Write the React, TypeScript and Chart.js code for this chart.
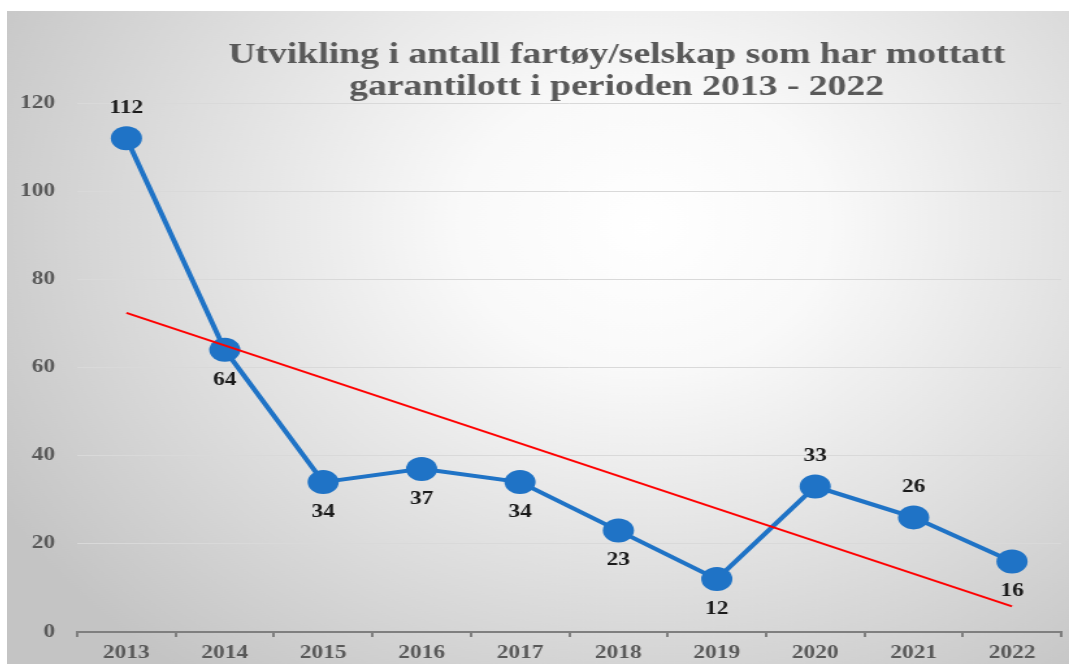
import React, { useEffect, useRef } from "react";
import { Chart, registerables } from "chart.js";

Chart.register(...registerables);

const years = ["2013", "2014", "2015", "2016", "2017", "2018", "2019", "2020", "2021", "2022"];
const counts = [112, 64, 34, 37, 34, 23, 12, 33, 26, 16];
const labelSides = ["above", "below", "below", "below", "below", "below", "below", "above", "above", "below"];
const trendValues: (number | null)[] = [72.4, null, null, null, null, null, null, null, null, 5.8];
const titleLines = ["Utvikling i antall fartøy/selskap som har mottatt", "garantilott i perioden 2013 - 2022"];
const yTicks = [0, 20, 40, 60, 80, 100, 120];

const STRETCH = 1.3;
const CSS_W = 1062;
const CSS_H = 653;
const BMP_W = Math.round(CSS_W / STRETCH);
const SERIF = "'Liberation Serif', 'Times New Roman', serif";

export default function App() {
  const ref = useRef<HTMLCanvasElement | null>(null);

  useEffect(() => {
    const canvas = ref.current!;
    const bgPlugin = {
      id: "bg",
      beforeDraw(chart: any) {
        const ctx = chart.ctx;
        const w = chart.width;
        const h = chart.height;
        ctx.save();
        const g = ctx.createRadialGradient(w * 0.6, h * 0.33, 0, w * 0.6, h * 0.33, w * 0.7);
        g.addColorStop(0, "#ffffff");
        g.addColorStop(0.25, "#f9f9f9");
        g.addColorStop(1, "#c4c4c4");
        ctx.fillStyle = g;
        ctx.fillRect(0, 0, w, h);
        ctx.restore();
      },
    };
    const titlePlugin = {
      id: "customTitle",
      afterDraw(chart: any) {
        const ctx = chart.ctx;
        ctx.save();
        ctx.fillStyle = "#595959";
        ctx.font = `bold 29px ${SERIF}`;
        ctx.textAlign = "center";
        ctx.textBaseline = "alphabetic";
        ctx.fillText(titleLines[0], 469, 52);
        ctx.fillText(titleLines[1], 469, 84);
        ctx.restore();
      },
    };
    const labelPlugin = {
      id: "pointLabels",
      afterDatasetsDraw(chart: any) {
        const meta = chart.getDatasetMeta(0);
        const ctx = chart.ctx;
        ctx.save();
        ctx.fillStyle = "#1a1a1a";
        ctx.font = `bold 18px ${SERIF}`;
        ctx.textAlign = "center";
        ctx.textBaseline = "middle";
        meta.data.forEach((pt: any, i: number) => {
          const dy = labelSides[i] === "above" ? -30 : 30;
          ctx.fillText(String(counts[i]), pt.x, pt.y + dy);
        });
        ctx.restore();
      },
    };

    const chart = new Chart(canvas, {
      type: "line",
      data: {
        labels: years,
        datasets: [
          {
            data: counts,
            borderColor: "#1f73c6",
            backgroundColor: "#1f73c6",
            borderWidth: 4,
            pointRadius: 12,
            pointHoverRadius: 12,
            pointBackgroundColor: "#1f73c6",
            pointBorderColor: "#1f73c6",
            pointBorderWidth: 0,
            tension: 0,
            clip: false,
            order: 1,
          },
          {
            data: trendValues,
            borderColor: "#ff0000",
            borderWidth: 2,
            pointRadius: 0,
            spanGaps: true,
            tension: 0,
            order: 0,
          },
        ],
      },
      options: {
        animation: false,
        responsive: false,
        devicePixelRatio: 1,
        layout: { autoPadding: false, padding: { top: 92, right: 6, left: 0, bottom: 0 } },
        plugins: {
          legend: { display: false },
          title: { display: false },
          tooltip: { enabled: false },
        },
        scales: {
          x: {
            offset: true,
            grid: {
              offset: true,
              drawOnChartArea: false,
              drawTicks: true,
              tickLength: 5,
              color: "#7f7f7f",
              lineWidth: 2,
            },
            border: { display: true, color: "#7f7f7f", width: 2 },
            ticks: {
              color: "#595959",
              font: { family: SERIF, size: 18, weight: "bold" },
              padding: 6,
              maxRotation: 0,
            },
            afterFit(scale: any) {
              scale.height = 32;
              scale.paddingLeft = 0;
              scale.paddingRight = 0;
            },
          },
          y: {
            min: 0,
            max: 120,
            afterBuildTicks(scale: any) {
              scale.ticks = yTicks.map((v) => ({ value: v }));
            },
            grid: { color: "#d9d9d9", lineWidth: 1, drawTicks: false },
            border: { display: false },
            ticks: {
              color: "#595959",
              font: { family: SERIF, size: 18, weight: "bold" },
              padding: 17,
            },
            afterFit(scale: any) {
              scale.width = 54;
              scale.paddingTop = 0;
              scale.paddingBottom = 0;
            },
          },
        },
      },
      plugins: [bgPlugin, titlePlugin, labelPlugin],
    } as any);
    return () => chart.destroy();
  }, []);

  return (
    <div style={{ position: "absolute", left: 7, top: 11 }}>
      <canvas
        ref={ref}
        width={BMP_W}
        height={CSS_H}
        style={{ width: `${CSS_W}px`, height: `${CSS_H}px`, display: "block" }}
      />
    </div>
  );
}
